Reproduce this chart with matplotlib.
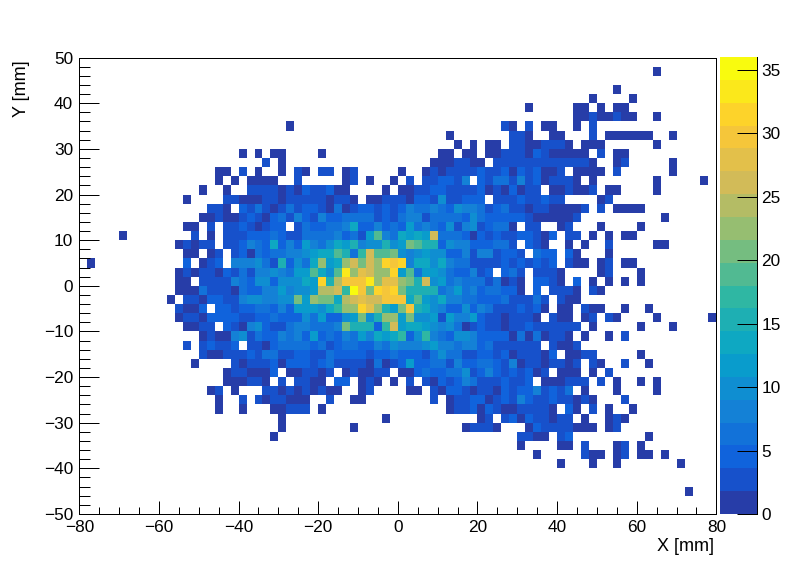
import numpy as np
import matplotlib
matplotlib.use('Agg')
import matplotlib.pyplot as plt
from matplotlib.colors import LinearSegmentedColormap, ListedColormap, BoundaryNorm
from matplotlib.ticker import MultipleLocator

plt.rcParams['font.family'] = ['Liberation Sans', 'DejaVu Sans']
plt.rcParams['font.size'] = 12.4

W, H = 796, 572

# 80 x 50 bins
x_edges = np.linspace(-80, 80, 81)
y_edges = np.linspace(-50, 50, 51)
z_max = 36
n_levels = 20
cbar_ticks = [0, 5, 10, 15, 20, 25, 30, 35]

# kBird palette
stops = [0.0, 0.125, 0.25, 0.375, 0.5, 0.625, 0.75, 0.875, 1.0]
bird_r = [0.2082, 0.0592, 0.0780, 0.0232, 0.1802, 0.5301, 0.8186, 0.9956, 0.9764]
bird_g = [0.1664, 0.3599, 0.5041, 0.6419, 0.7178, 0.7492, 0.7328, 0.7862, 0.9832]
bird_b = [0.5293, 0.8684, 0.8385, 0.7914, 0.6425, 0.4662, 0.3499, 0.1968, 0.0539]

# counts: row from the top -> (first x bin, base-36 digit per bin, '.' = empty, spaces ignored)
rows = {
    1: [(72, "1")],
    3: [(67, "1")],
    4: [(64, "1....1")],
    5: [(56, "1.....11.1.11")],
    6: [(62, "11211211..1")],
    7: [(26, "1"), (53, "21.2.11..1.2")],
    8: [(46, "1"), (54, "221..11...2.111111..1")],
    9: [(47, "1.1.11.22112221.111......1")],
    10: [(20, "1.1.11....1"), (45, "11.11 .1122 21421 1111. 2.11")],
    11: [(23, "2.1"), (44, "11122 11.22 22222 22222 1..12 ..... 1")],
    12: [(17, "11.2.1..1.21.22.12"), (40, "1..12 12222 42241 42411 2.111 1.2 ...... 1")],
    13: [(17, "1.1.1111..2"), (33, "12.1. .1.2. 22442 8.426 62824 12221 .1 ....... 1 ..... 1")],
    14: [(15, "1..1.. 2222121422411 .... 1.11 224422224 1214122 .112112 .11....1")],
    15: [(13, "1.... 22111 22122 22212 21.11 22214 42a22 444.2 22422 422 .... 12")],
    16: [(16, "221.4 26212 62442 16124 42424 86686 4a886 24622 12211 112.2 .1111")],
    17: [(15, "11211 24214 62842 84466 66242 68826 6664a 64444 42111 112 .......... 1")],
    18: [(13, "11.2. 22421 244.2 64466 8d448 464b6 864a2 8a246 61.22 ..12. ..1.. ..1")],
    19: [(5, "1"), (14, "2.1.2 22444 64226 66684 62bi8 6dbdb q6664 14242 24421 4.22. 1.1.1 1")],
    20: [(12, "12122 .2248 64d48 4b86a dbf8a afabk iff4a 88444 662.4 21..1 .1..2 ..... 11")],
    21: [(13, "11.12 .2416 46688 abddi f6hqi ika8a baa44 82882 442.6 44.41 ...1")],
    22: [(1, "1"), (13, "4.124 .888a 62f4a 6dmbd mqkqm vtv8d dad86 62222 42424 24.21 1.12. 11")],
    23: [(12, "12122 14262 88a86 bbida ixmrq mmvbi 6bba6 44824 .462. 2221. ...12 ...1")],
    24: [(12, "11.22 22864 aa4aa adbvf otttx mrrmk fqab6 86662 6121. 4421. 4.1.1 .1.1")],
    25: [(12, "11162 22164 488b8 aaboo qhztk vtvkf fff68 b6846 6441. 4.222 1.21")],
    26: [(11, "1.221 44228 aa88a akbmk kdoqr qqttt dibad 88664 44622 262.2 11")],
    27: [(12, "2114. 44244 66484 bbbad hmmvr mfbkt fda84 4a486 22242 41.11 .211. .1..1")],
    28: [(12, "12214 44422 44644 4a6b4 4abka fmmbk aab2b 88b42 21222 1.211 .12.2 1.... 1...... 1")],
    29: [(13, "1122. 4218a 42268 86668 kfff4 hqbdd ba8a6 12422 12242 22222 .1 ..... 1 ... 1")],
    30: [(15, "12118 a2644 8684b 46486 b8dbd h4ah8 64aa8 44441 61612 21.1. .1.2")],
    31: [(13, "2.242 24.22 14666 64624 66448 6a888 ab886 88462 22222 .2112")],
    32: [(15, "21122 24266 22442 26444 42446 44426 a6622 44241 22214 .1122 ..... 1")],
    33: [(14, "1.... 21222 41444 24622 22161 24b44 66284 46642 81221 2212. 21..2 ..1")],
    34: [(18, "12211 14.11 2212. 12112 2.114 64466 a2484 24241 2.111 .1.2")],
    35: [(18, "11122 1.2.2 211.4 4.121 .1.2. 21424 86222 4224. 11122 2.2.1 ..1.1")],
    36: [(16, "12.1. ..221 21212 11..1 2.... 11.21 44212 21424 48242 6.1.. .1... .1")],
    37: [(17, "1..2. 21221 11..2 ..11 ........ 2.122 44124 28422 42212 1...2")],
    38: [(17, "1..1...11222.1"), (46, "12241 42112 2221. 41.2. 1..1")],
    39: [(25, "1"), (38, "1"), (50, "12.24 14221 22.1. .121")],
    40: [(25, "1"), (34, "1"), (48, "12221"), (56, "14222 2111. 12")],
    41: [(24, "1"), (55, "2211.24"), (71, "1")],
    42: [(55, "1....11.2...12.1")],
    43: [(57, "1.....211.12.11.1")],
    44: [(60, "1...1..1.......1")],
    47: [(76, "1")],
}

counts = np.full((len(y_edges) - 1, len(x_edges) - 1), np.nan)
for row, runs in rows.items():
    for first, cells in runs:
        cells = cells.replace(' ', '')
        for i, c in enumerate(cells):
            if c != '.':
                counts[len(y_edges) - 2 - row, first + i] = int(c, 36)

# palette reduced to the contour levels
bird = LinearSegmentedColormap(
    'bird',
    {'red': [(s, v, v) for s, v in zip(stops, bird_r)],
     'green': [(s, v, v) for s, v in zip(stops, bird_g)],
     'blue': [(s, v, v) for s, v in zip(stops, bird_b)]},
    N=256)
cmap = ListedColormap([bird((i + 1) / n_levels) for i in range(n_levels)])
cmap.set_bad('white')
norm = BoundaryNorm(np.linspace(0, z_max, n_levels + 1), n_levels)

fig = plt.figure(figsize=(W / 100, H / 100), dpi=100, facecolor='white')
ax = fig.add_axes([79.3 / W, 1 - 514 / H, (716.4 - 79.3) / W, (514 - 57.6) / H])
mesh = ax.pcolormesh(x_edges, y_edges, np.ma.masked_invalid(counts), cmap=cmap, norm=norm, linewidth=0)
ax.set_xlim(-80, 80)
ax.set_ylim(-50, 50)

ax.xaxis.set_major_locator(MultipleLocator(20))
ax.xaxis.set_minor_locator(MultipleLocator(5))
ax.yaxis.set_major_locator(MultipleLocator(10))
ax.yaxis.set_minor_locator(MultipleLocator(2))
ax.tick_params(axis='x', which='major', direction='in', length=9.6, width=0.72, pad=4)
ax.tick_params(axis='x', which='minor', direction='in', length=5, width=0.72)
ax.tick_params(axis='y', which='major', direction='in', length=14.4, width=0.72, pad=4.5)
ax.tick_params(axis='y', which='minor', direction='in', length=7.6, width=0.72)
for s in ax.spines.values():
    s.set_linewidth(0.72)

# colorbar, only its right edge is drawn
cax = fig.add_axes([720 / W, 1 - 514 / H, (756.5 - 720) / W, (514 - 57) / H])
cb = fig.colorbar(mesh, cax=cax, ticks=cbar_ticks, spacing='proportional')
cb.outline.set_visible(False)
cax.axvline(1, color='black', lw=0.72, clip_on=False)
cax.tick_params(axis='y', which='major', direction='in', length=14.4, width=0.72, pad=3.4, color='black')
cax.minorticks_off()

fig.text(714 / W, 1 - 555 / H, 'X [mm]', ha='right', va='bottom', fontsize=13)
fig.text(22 / W, 1 - 60 / H, 'Y [mm]', rotation=90, ha='center', va='top', fontsize=13)

fig.savefig('out.png', dpi=100)
plt.close(fig)
